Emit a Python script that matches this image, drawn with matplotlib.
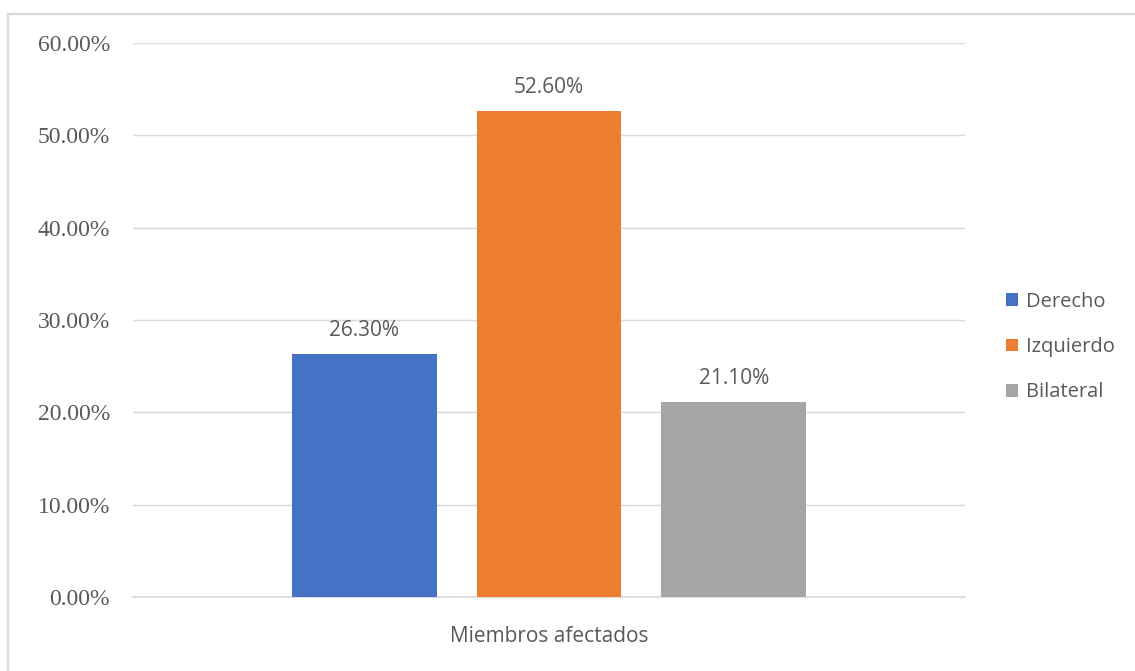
import matplotlib.pyplot as plt
from matplotlib.patches import Rectangle
from matplotlib.ticker import FuncFormatter

# Miembros afectados (%)
series = ['Derecho', 'Izquierdo', 'Bilateral']
values = [26.3, 52.6, 21.1]
colors = ['#4472C4', '#ED7D31', '#A5A5A5']
category = 'Miembros afectados'

plt.rcParams['font.family'] = ['Open Sans', 'DejaVu Sans']
txt = '#595959'

fig = plt.figure(figsize=(11.35, 6.71), dpi=100)
# light outer border of the chart box
fig.patches.append(Rectangle((8/1135, -0.1), 1.2, (671-14)/671 + 0.1,
                             transform=fig.transFigure, fill=False,
                             edgecolor='#d9d9d9', linewidth=1.6))

ax = fig.add_axes([133/1135, 74/671, 832/1135, 554/671])

w = 0.174
step = 0.222
for i, (name, v, c) in enumerate(zip(series, values, colors)):
    x = (i - 1) * step
    ax.bar(x, v, width=w, color=c, label=name, zorder=3)
    ax.text(x, v + 2.6, f'{v:.2f}%', ha='center', va='center',
            fontsize=15, color=txt)

ax.set_xlim(-0.5, 0.5)
ax.set_ylim(0, 60)
ax.set_yticks(range(0, 61, 10))
ax.yaxis.set_major_formatter(FuncFormatter(lambda v, p: f'{v:.2f}%'))
ax.set_xticks([0])
ax.set_xticklabels([category])
ax.tick_params(axis='both', length=0, labelcolor=txt, labelsize=15)
ax.tick_params(axis='y', pad=16.5)
ax.tick_params(axis='x', pad=21)
for lbl in ax.get_yticklabels():
    lbl.set_family(['Liberation Serif', 'DejaVu Serif'])
    lbl.set_fontsize(17)
ax.grid(axis='y', color='#d9d9d9', linewidth=1, zorder=0)
ax.axhline(0, color='#d9d9d9', linewidth=1.2, zorder=2, clip_on=False)
for s in ax.spines.values():
    s.set_visible(False)

ax.legend(loc='center left', bbox_to_anchor=(1.027, 0.451), frameon=False,
          fontsize=14.5, labelcolor=txt, handlelength=0.6, handleheight=0.6,
          handletextpad=0.4, labelspacing=1.25)

fig.savefig('out.png', dpi=100)
